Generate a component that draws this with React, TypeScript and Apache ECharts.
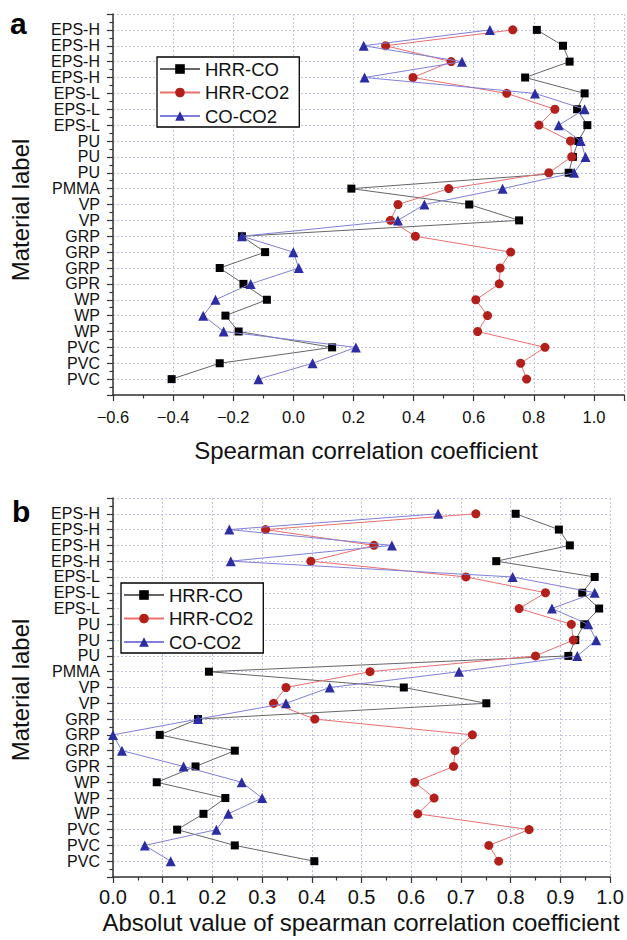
import React, { useEffect, useRef } from "react";
import * as echarts from "echarts";

const categories = [
  "EPS-H", "EPS-H", "EPS-H", "EPS-H", "EPS-L", "EPS-L", "EPS-L", "PU", "PU", "PU", "PMMA",
  "VP", "VP", "GRP", "GRP", "GRP", "GPR", "WP", "WP", "WP", "PVC", "PVC", "PVC",
];

// Panel a: Spearman correlation coefficients
const hrrCo = [0.81, 0.897, 0.919, 0.771, 0.969, 0.944, 0.978, 0.948, 0.93, 0.916, 0.193, 0.585, 0.751,
  -0.171, -0.094, -0.245, -0.166, -0.088, -0.226, -0.182, 0.129, -0.245, -0.405];
const hrrCo2 = [0.73, 0.307, 0.525, 0.398, 0.71, 0.87, 0.817, 0.922, 0.926, 0.85, 0.517, 0.348, 0.323,
  0.406, 0.723, 0.688, 0.685, 0.607, 0.646, 0.613, 0.837, 0.756, 0.776];
const coCo2 = [0.654, 0.234, 0.561, 0.237, 0.804, 0.969, 0.883, 0.956, 0.972, 0.934, 0.696, 0.436, 0.348,
  -0.171, 0.0, 0.018, -0.142, -0.259, -0.3, -0.232, 0.208, 0.064, -0.116];

// Panel b: absolute values of the same coefficients
const absHrrCo = hrrCo.map((v) => Math.abs(v));
const absHrrCo2 = hrrCo2.map((v) => Math.abs(v));
const absCoCo2 = coCo2.map((v) => Math.abs(v));

const seriesNames = ["HRR-CO", "HRR-CO2", "CO-CO2"];
const xTicksA = { min: -0.6, max: 1.1, interval: 0.2 };
const xTicksB = { min: 0, max: 1.0, interval: 0.1 };

const FONT = "Liberation Sans, Arial, Helvetica, sans-serif";
const GRID_COLOR = "#bfc3e6";

const styles = [
  { symbol: "rect", size: 8, marker: "#000000", line: "#666666" },
  { symbol: "circle", size: 9, marker: "#b3201c", line: "#e87070" },
  { symbol: "triangle", size: 10, marker: "#2c2ca3", line: "#8080d8" },
];

function fmtX(v: number, max: number) {
  const r = Math.round(v * 10) / 10;
  if (r > max) return "";
  return (r < 0 ? "\u2212" : "") + Math.abs(r).toFixed(1);
}

function makeX(gridIndex: number, t: { min: number; max: number; interval: number }, labelSize: number, labelMax: number, margin: number) {
  return {
    type: "value",
    gridIndex,
    min: t.min,
    max: t.max,
    interval: t.interval,
    axisLine: { show: true, onZero: false, lineStyle: { color: "#333", width: 1.5 } },
    axisTick: { show: true, inside: false, length: 6, lineStyle: { color: "#333", width: 1.2 } },
    minorTick: { show: true, splitNumber: 2, length: 3.5, lineStyle: { color: "#333", width: 1.2 } },
    axisLabel: {
      margin,
      fontSize: labelSize,
      fontFamily: FONT,
      color: "#111",
      formatter: (v: number) => fmtX(v, labelMax),
    },
    splitLine: { show: true, lineStyle: { color: GRID_COLOR, width: 1, type: [2, 2] } },
  };
}

function makeY(gridIndex: number) {
  return {
    type: "value",
    gridIndex,
    inverse: true,
    min: 0,
    max: 24,
    interval: 1,
    axisLine: { show: true, onZero: false, lineStyle: { color: "#333", width: 1.5 } },
    axisTick: { show: true, inside: false, length: 6, lineStyle: { color: "#333", width: 1.2 } },
    minorTick: { show: true, splitNumber: 2, length: 3.5, lineStyle: { color: "#333", width: 1.2 } },
    axisLabel: {
      margin: 13,
      fontSize: 16,
      fontFamily: FONT,
      color: "#111",
      formatter: (v: number) => categories[Math.round(v) - 1] ?? "",
    },
    splitLine: { show: true, lineStyle: { color: GRID_COLOR, width: 1, type: [2, 2] } },
  };
}

function makeSeries(idx: number, values: number[], axisIndex: number) {
  const s = styles[idx];
  return {
    type: "line",
    name: seriesNames[idx],
    xAxisIndex: axisIndex,
    yAxisIndex: axisIndex,
    data: values.map((v, i) => [v, i + 1]),
    symbol: s.symbol,
    symbolSize: s.size,
    showSymbol: true,
    clip: false,
    silent: true,
    itemStyle: { color: s.marker },
    lineStyle: { color: s.line, width: 1 },
    z: 2 + idx,
  };
}

function makeLegend(left: number, top: number) {
  return {
    orient: "vertical",
    left,
    top,
    data: seriesNames,
    itemWidth: 40,
    itemHeight: 12,
    itemGap: 3.5,
    padding: [2, 10, 1, 2],
    borderColor: "#000",
    borderWidth: 1.3,
    borderRadius: 0,
    backgroundColor: "#fff",
    selectedMode: false,
    textStyle: { fontSize: 18.5, fontFamily: FONT, color: "#111", lineHeight: 20 },
  };
}

export default function App() {
  const ref = useRef<HTMLDivElement>(null);
  useEffect(() => {
    if (!ref.current) return;
    const chart = echarts.init(ref.current, null, { renderer: "svg" });
    const option: any = {
      animation: false,
      backgroundColor: "#fff",
      textStyle: { fontFamily: FONT },
      grid: [
        { left: 113, top: 14, width: 513, height: 381 },
        { left: 113, top: 498, width: 507, height: 379 },
      ],
      xAxis: [makeX(0, xTicksA, 16.5, 1.0, 13), makeX(1, xTicksB, 20, 1.0, 10)],
      yAxis: [makeY(0), makeY(1)],
      legend: [makeLegend(157, 57), makeLegend(121, 583)],
      series: [
        makeSeries(0, hrrCo, 0),
        makeSeries(1, hrrCo2, 0),
        makeSeries(2, coCo2, 0),
        makeSeries(0, absHrrCo, 1),
        makeSeries(1, absHrrCo2, 1),
        makeSeries(2, absCoCo2, 1),
      ],
      graphic: [
        { type: "text", x: 10, y: 23, style: { text: "a", font: `bold 30px ${FONT}`, fill: "#000", align: "left", verticalAlign: "middle" } },
        { type: "text", x: 12, y: 511, style: { text: "b", font: `bold 30px ${FONT}`, fill: "#000", align: "left", verticalAlign: "middle" } },
        { type: "text", x: 20, y: 210, rotation: Math.PI / 2, style: { text: "Material label", font: `24px ${FONT}`, fill: "#111", align: "center", verticalAlign: "middle" } },
        { type: "text", x: 20, y: 690, rotation: Math.PI / 2, style: { text: "Material label", font: `24px ${FONT}`, fill: "#111", align: "center", verticalAlign: "middle" } },
        { type: "text", x: 366, y: 450, style: { text: "Spearman correlation coefficient", font: `24px ${FONT}`, fill: "#111", align: "center", verticalAlign: "middle" } },
        { type: "text", x: 361, y: 922, style: { text: "Absolut value of spearman correlation coefficient", font: `24px ${FONT}`, fill: "#111", align: "center", verticalAlign: "middle" } },
      ],
    };
    chart.setOption(option);
    return () => chart.dispose();
  }, []);
  return <div ref={ref} style={{ position: "absolute", left: 0, top: 0, width: 627, height: 940 }} />;
}
